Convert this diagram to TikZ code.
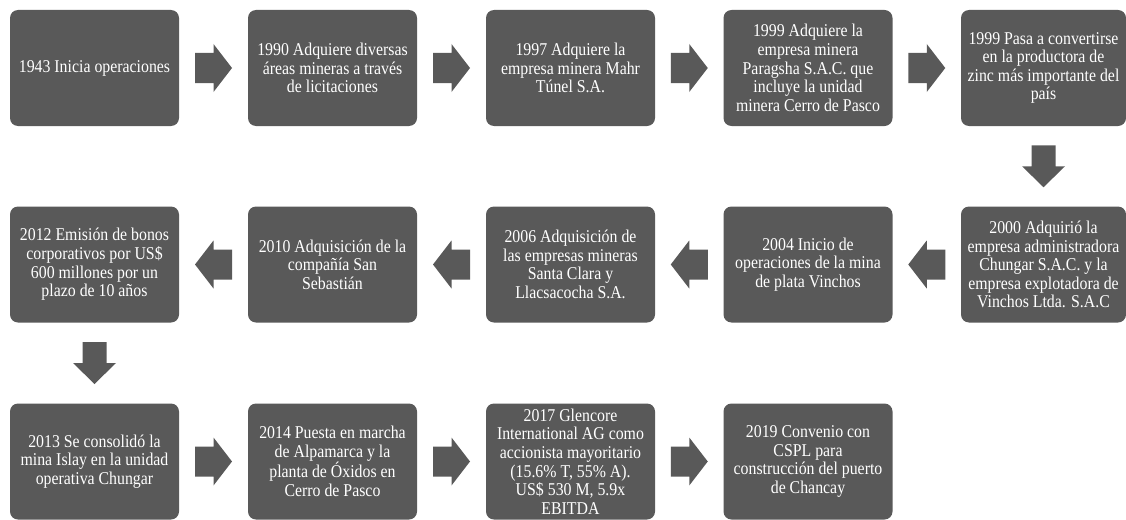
\documentclass[tikz,border=0pt]{standalone}
\usepackage{fontspec}
\setmainfont{Liberation Serif}[FakeStretch=0.88]
\usetikzlibrary{calc}
\definecolor{boxgray}{HTML}{595959}
\tikzset{
  box/.style={fill=boxgray, rounded corners=8pt, text=white, align=center,
    minimum width=169pt, minimum height=116pt, inner sep=0pt,
    font=\fontsize{18}{18.6}\selectfont},
  harrow/.pic={\fill[boxgray] (-18.5,-15) -- (0,-15) -- (0,-24) -- (18.5,0) -- (0,24) -- (0,15) -- (-18.5,15) -- cycle;},
  varrow/.pic={\fill[boxgray] (-12,-21) -- (12,-21) -- (12,0) -- (21.5,0) -- (0,21) -- (-21.5,0) -- (-12,0) -- cycle;}
}
\begin{document}
\begin{tikzpicture}[x=1pt,y=-1pt]
\useasboundingbox (0,0) rectangle (1126,519);
% row 1
\node[box] (a1) at (94.5,68) {1943 Inicia operaciones};
\node[box] (a2) at (332.5,68) {1990 Adquiere diversas\\áreas mineras a través\\de licitaciones};
\node[box] (a3) at (570.5,68) {1997 Adquiere la\\empresa minera Mahr\\Túnel S.A.};
\node[box] (a4) at (808,68) {1999 Adquiere la\\empresa minera\\Paragsha S.A.C. que\\incluye la unidad\\minera Cerro de Pasco};
\node[box, minimum width=165pt] (a5) at (1043.5,68) {1999 Pasa a convertirse\\en la productora de\\zinc más importante del\\país};
% row 2
\node[box, minimum width=165pt] (b5) at (1043.5,264.5) {2000 Adquirió la\\empresa administradora\\Chungar S.A.C. y la\\empresa explotadora de\\Vinchos Ltda. S.A.C};
\node[box] (b4) at (808,264.5) {2004 Inicio de\\operaciones de la mina\\de plata Vinchos};
\node[box] (b3) at (570.5,264.5) {2006 Adquisición de\\las empresas mineras\\Santa Clara y\\Llacsacocha S.A.};
\node[box] (b2) at (332.5,264.5) {2010 Adquisición de la\\compañía San\\Sebastián};
\node[box] (b1) at (94.5,264.5) {2012 Emisión de bonos\\corporativos por US\$\\600 millones por un\\plazo de 10 años};
% row 3
\node[box] (c1) at (94.5,461.5) {2013 Se consolidó la\\mina Islay en la unidad\\operativa Chungar};
\node[box] (c2) at (332.5,461.5) {2014 Puesta en marcha\\de Alpamarca y la\\planta de Óxidos en\\Cerro de Pasco};
\node[box] (c3) at (570.5,461.5) {2017 Glencore\\International AG como\\accionista mayoritario\\(15.6\% T, 55\% A).\\US\$ 530 M, 5.9x\\EBITDA};
\node[box] (c4) at (808,461.5) {2019 Convenio con\\CSPL para\\construcción del puerto\\de Chancay};
% arrows
\pic at ($(a1.east)!0.5!(a2.west)$) {harrow};
\pic at ($(a2.east)!0.5!(a3.west)$) {harrow};
\pic at ($(a3.east)!0.5!(a4.west)$) {harrow};
\pic at ($(a4.east)!0.5!(a5.west)$) {harrow};
\pic at ($(a5.south)!0.5!(b5.north)$) {varrow};
\pic[rotate=180] at ($(b5.west)!0.5!(b4.east)$) {harrow};
\pic[rotate=180] at ($(b4.west)!0.5!(b3.east)$) {harrow};
\pic[rotate=180] at ($(b3.west)!0.5!(b2.east)$) {harrow};
\pic[rotate=180] at ($(b2.west)!0.5!(b1.east)$) {harrow};
\pic at ($(b1.south)!0.5!(c1.north)$) {varrow};
\pic at ($(c1.east)!0.5!(c2.west)$) {harrow};
\pic at ($(c2.east)!0.5!(c3.west)$) {harrow};
\pic at ($(c3.east)!0.5!(c4.west)$) {harrow};
\end{tikzpicture}
\end{document}
